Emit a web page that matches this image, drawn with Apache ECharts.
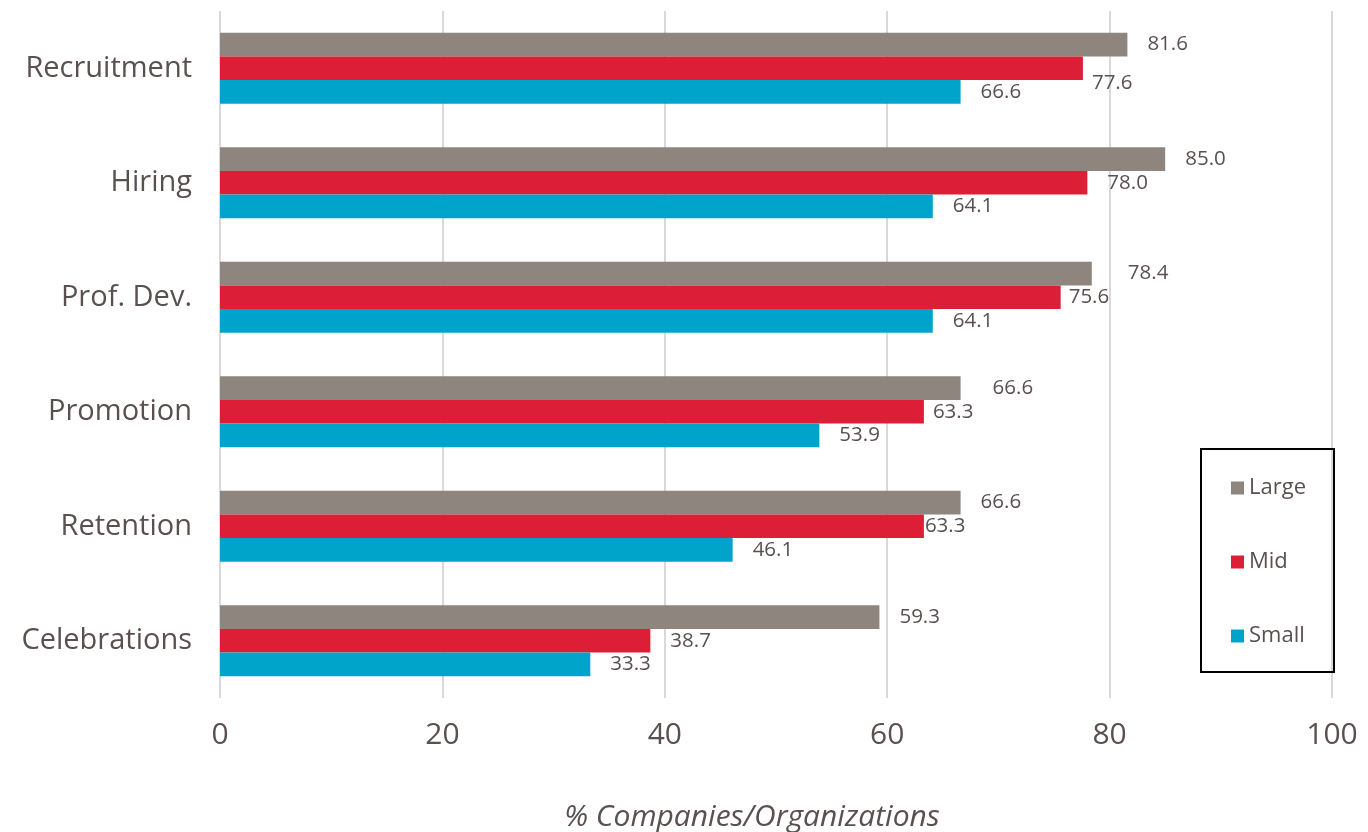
<!DOCTYPE html>
<html>
<head>
<meta charset="utf-8">
<script src="https://cdn.jsdelivr.net/npm/echarts@6/dist/echarts.min.js"></script>
<style>
  html, body { margin: 0; padding: 0; background: #ffffff; }
  #chart { width: 1368px; height: 832px; }
</style>
</head>
<body>
<div id="chart"></div>
<script>
// Practice areas, top to bottom
const categories = ['Recruitment', 'Hiring', 'Prof. Dev.', 'Promotion', 'Retention', 'Celebrations'];

// Share of companies/organizations by size (%)
const largeValues = [81.6, 85.0, 78.4, 66.6, 66.6, 59.3];
const midValues   = [77.6, 78.0, 75.6, 63.3, 63.3, 38.7];
const smallValues = [66.6, 64.1, 64.1, 53.9, 46.1, 33.3];

const seriesNames = ['Large', 'Mid', 'Small'];
const axisTicks = [0, 20, 40, 60, 80, 100];

const textColor = '#5a5050';
const fontFamily = '"Open Sans", Lato, sans-serif';
const colors = { Large: '#8d857e', Mid: '#dc1f37', Small: '#00a4cb' };

// Hand-placed value labels: [dx, dy] shifts from the default spot
const labelNudges = {
  Large: { 'Prof. Dev.': [16, 0], 'Promotion': [12, 0] },
  Mid:   { 'Recruitment': [-11, 15], 'Prof. Dev.': [-12, 0], 'Promotion': [-11, 0], 'Retention': [-19, 0] },
  Small: {}
};

const chart = echarts.init(document.getElementById('chart'));

function barSeries(name, values) {
  const nudges = labelNudges[name];
  return {
    name: name,
    type: 'bar',
    data: values.map((v, i) => {
      const n = nudges[categories[i]];
      return n ? { value: v, label: { offset: n } } : v;
    }),
    barGap: '0%',
    barCategoryGap: '38%',
    itemStyle: { color: colors[name] },
    label: {
      show: true,
      position: 'right',
      distance: 20,
      formatter: p => p.value.toFixed(1),
      color: textColor,
      fontFamily: fontFamily,
      fontSize: 20.5
    }
  };
}

chart.setOption({
  animation: false,
  backgroundColor: '#ffffff',
  grid: { left: 220, right: 36, top: 11, bottom: 134, outerBoundsMode: 'none', containLabel: false },
  xAxis: {
    type: 'value',
    min: axisTicks[0],
    max: axisTicks[axisTicks.length - 1],
    interval: axisTicks[1] - axisTicks[0],
    name: '% Companies/Organizations',
    nameLocation: 'middle',
    nameGap: 104,
    nameTextStyle: { color: textColor, fontFamily: fontFamily, fontSize: 30, fontStyle: 'italic', padding: [0, 48, 0, 0] },
    axisLine: { show: false },
    axisTick: { show: false },
    splitLine: { show: true, lineStyle: { color: '#d9d9d9', width: 2 } },
    axisLabel: { color: textColor, fontFamily: fontFamily, fontSize: 30, margin: 22 }
  },
  yAxis: {
    type: 'category',
    data: categories,
    inverse: true,
    axisLine: { show: false },
    axisTick: { show: false },
    axisLabel: { color: textColor, fontFamily: fontFamily, fontSize: 29, margin: 28 }
  },
  legend: {
    data: seriesNames,
    orient: 'vertical',
    left: 1201,
    top: 449,
    borderColor: '#000000',
    borderWidth: 2,
    padding: [28, 28, 25, 30],
    itemWidth: 13,
    itemHeight: 13,
    itemGap: 52,
    itemStyle: { borderWidth: 0 },
    icon: 'rect',
    textStyle: { color: textColor, fontFamily: fontFamily, fontSize: 22 }
  },
  series: [
    barSeries('Large', largeValues),
    barSeries('Mid', midValues),
    barSeries('Small', smallValues)
  ]
});
</script>
</body>
</html>
